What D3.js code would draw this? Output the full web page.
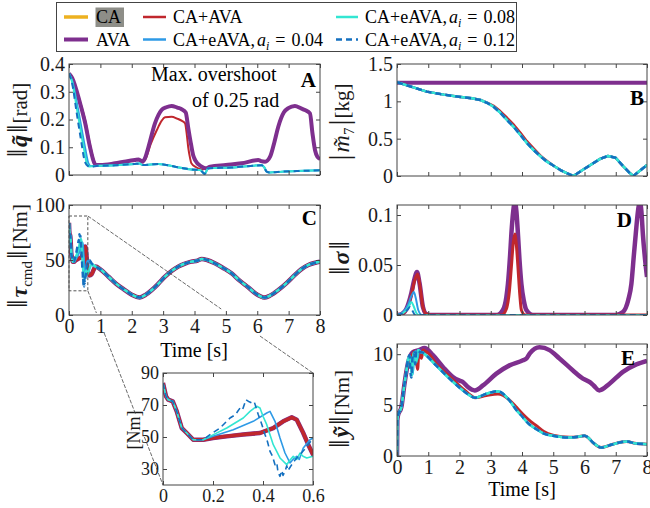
<!DOCTYPE html>
<html>
<head>
<meta charset="utf-8">
<title>Overshoot comparison</title>
<script src="https://d3js.org/d3.v7.min.js"></script>
<style>
  body { margin: 0; background: #fff; }
  svg, svg text { font-family: "Liberation Serif", Tinos, "Times New Roman", "DejaVu Serif", serif; }
</style>
</head>
<body>
<script>

// ---------------- data (time [s], value) ----------------

// A: joint error norm [rad]
const qAVA = [[0,0.366],[0.1,0.35],[0.35,0.26],[0.51,0.19],[0.67,0.10],[0.8,0.045],[0.85,0.036],[1.0,0.036],[1.47,0.042],[2.1,0.054],[2.22,0.056],[2.34,0.048],[2.42,0.06],[2.53,0.10],[2.74,0.186],[2.95,0.234],[3.1,0.244],[3.27,0.249],[3.45,0.243],[3.59,0.237],[3.72,0.225],[3.8,0.17],[3.89,0.11],[3.96,0.07],[4.02,0.054],[4.23,0.030],[4.36,0.024],[4.5,0.030],[5.0,0.036],[5.5,0.042],[6.03,0.054],[6.12,0.05],[6.25,0.048],[6.41,0.066],[6.55,0.12],[6.67,0.174],[6.85,0.226],[6.99,0.241],[7.2,0.249],[7.4,0.24],[7.52,0.234],[7.68,0.222],[7.76,0.15],[7.84,0.09],[7.92,0.065],[8,0.058]]
const qCAAVA = [[0,0.366],[0.1,0.35],[0.35,0.265],[0.51,0.2],[0.67,0.11],[0.8,0.05],[0.87,0.036],[1.0,0.036],[1.47,0.042],[2.1,0.054],[2.22,0.056],[2.34,0.048],[2.45,0.06],[2.6,0.11],[2.8,0.162],[2.95,0.195],[3.06,0.208],[3.27,0.21],[3.45,0.203],[3.6,0.195],[3.7,0.186],[3.76,0.14],[3.8,0.10],[3.86,0.06],[3.9,0.042],[4.05,0.028],[4.12,0.024],[4.25,0.02],[4.36,0.024],[4.5,0.030],[5.0,0.036],[5.5,0.042],[6.03,0.054],[6.12,0.05],[6.25,0.048],[6.41,0.066],[6.55,0.12],[6.67,0.174],[6.85,0.226],[6.99,0.241],[7.2,0.249],[7.4,0.24],[7.52,0.234],[7.68,0.222],[7.76,0.15],[7.84,0.09],[7.92,0.065],[8,0.058]]
const qE04 = [[0,0.366],[0.1,0.34],[0.3,0.23],[0.51,0.10],[0.62,0.042],[0.7,0.032],[0.93,0.033],[1.47,0.035],[2.1,0.040],[2.25,0.041],[2.34,0.036],[2.85,0.040],[3.38,0.030],[3.9,0.020],[4.18,0.018],[4.26,0.010],[4.32,0.004],[4.44,0.024],[5.18,0.027],[6.14,0.035],[6.22,0.028],[6.3,0.012],[6.4,0.009],[6.78,0.012],[7.5,0.015],[8,0.017]]
const qE08 = [[0,0.366],[0.1,0.335],[0.28,0.22],[0.46,0.105],[0.57,0.042],[0.65,0.031],[0.93,0.033],[1.47,0.035],[2.1,0.040],[2.25,0.041],[2.34,0.036],[2.85,0.040],[3.38,0.030],[3.9,0.020],[4.18,0.018],[4.26,0.010],[4.32,0.004],[4.44,0.024],[5.18,0.027],[6.14,0.035],[6.22,0.028],[6.3,0.012],[6.4,0.009],[6.78,0.012],[7.5,0.015],[8,0.017]]
const qE12 = [[0,0.366],[0.1,0.33],[0.25,0.22],[0.4,0.114],[0.48,0.06],[0.53,0.042],[0.6,0.033],[0.67,0.030],[0.93,0.033],[1.47,0.035],[2.1,0.040],[2.25,0.041],[2.34,0.036],[2.85,0.040],[3.38,0.030],[3.9,0.020],[4.18,0.018],[4.26,0.010],[4.32,0.004],[4.44,0.024],[5.18,0.027],[6.14,0.035],[6.22,0.028],[6.3,0.012],[6.4,0.009],[6.78,0.012],[7.5,0.015],[8,0.017]]

// B: mass estimate error [kg]
const mAVA = [[0,1.25],[8,1.25]]
const mCAAVA = [[0,1.255],[0.5,1.19],[0.95,1.13],[1.5,1.09],[1.97,1.062],[2.4,1.04],[2.67,1.018],[2.9,0.98],[3.09,0.94],[3.3,0.87],[3.52,0.78],[3.75,0.68],[3.95,0.58],[4.15,0.47],[4.37,0.37],[4.6,0.27],[4.8,0.2],[5.0,0.14],[5.23,0.08],[5.45,0.035],[5.64,0.0],[5.9,0.07],[6.19,0.147],[6.5,0.23],[6.75,0.268],[6.99,0.245],[7.25,0.125],[7.45,0.04],[7.56,0.0],[7.8,0.08],[8,0.147]]
const mEAVA = [[0,1.255],[0.5,1.19],[0.95,1.13],[1.5,1.09],[1.97,1.062],[2.4,1.04],[2.67,1.018],[2.9,0.975],[3.09,0.928],[3.3,0.85],[3.52,0.75],[3.75,0.65],[3.95,0.549],[4.15,0.445],[4.37,0.348],[4.6,0.26],[4.8,0.192],[5.0,0.14],[5.23,0.08],[5.45,0.035],[5.64,0.0],[5.9,0.07],[6.19,0.147],[6.5,0.23],[6.75,0.268],[6.99,0.245],[7.25,0.125],[7.45,0.04],[7.56,0.0],[7.8,0.08],[8,0.147]]

// C: commanded torque norm [Nm]
const tauStart = [[0,83.7],[0.012,75.4],[0.021,73.3],[0.039,72.3],[0.055,66],[0.075,55.6],[0.095,52.5],[0.121,48.3],[0.161,48.3]]
const tauRedMid = [[0.2,49.4],[0.255,50.4],[0.321,51.5],[0.388,52.5],[0.441,55.6],[0.481,59.8],[0.515,62.3],[0.535,60.8],[0.561,52.5],[0.581,45.2],[0.6,39],[0.65,36],[0.72,37],[0.8,42]]
const tauE04Mid = [[0.2,50.4],[0.281,54.6],[0.361,59.8],[0.415,65],[0.428,66],[0.448,59.8],[0.468,49.4],[0.488,40],[0.508,33.8],[0.52,36],[0.535,37.9],[0.545,36],[0.561,43.1],[0.588,48.3],[0.6,49.4],[0.65,48],[0.72,46],[0.8,44.5]]
const tauE08Mid = [[0.188,50.4],[0.255,55.6],[0.321,61.9],[0.348,66],[0.375,69.2],[0.388,68.1],[0.4,63],[0.415,57.7],[0.441,45.2],[0.468,36.9],[0.495,32.7],[0.505,35],[0.521,37.9],[0.535,36],[0.548,40],[0.56,38],[0.575,36.9],[0.6,38],[0.65,42],[0.72,46],[0.8,45]]
const tauE12Mid = [[0.188,51.5],[0.228,55.6],[0.268,61.9],[0.29,64],[0.308,68.1],[0.318,67],[0.332,73.3],[0.345,72],[0.355,71.3],[0.365,72],[0.381,64],[0.395,58],[0.408,51.5],[0.418,47],[0.428,41],[0.438,38],[0.448,32.7],[0.455,34],[0.46,28],[0.468,25.4],[0.475,29],[0.48,26],[0.488,28.5],[0.495,32],[0.5,29],[0.515,32.7],[0.53,36],[0.548,39],[0.565,42],[0.581,45.2],[0.6,49.4],[0.65,50],[0.72,47],[0.8,45]]
const tauTail = [[0.85,44],[1.0,41.5],[1.26,34.8],[1.5,28.5],[1.78,22.7],[2.0,18.5],[2.26,16],[2.45,18.5],[2.64,22.7],[2.85,28.5],[3.06,34.8],[3.27,40],[3.48,44],[3.7,46.8],[3.9,48.5],[4.1,49.5],[4.23,51],[4.4,50],[4.65,47],[4.9,43],[5.18,37.9],[5.45,31],[5.71,25.2],[5.95,19.5],[6.1,17],[6.23,15.8],[6.4,17.5],[6.67,22.7],[6.95,29.5],[7.2,36.4],[7.4,41.5],[7.63,45.5],[7.85,47.5],[8,48.5]]

// D: sigma norm
const sigAVA = [[0,0],[0.15,0.001],[0.3,0.006],[0.46,0.022],[0.55,0.035],[0.64,0.043],[0.72,0.032],[0.83,0.008],[0.94,0.001],[1.1,0],[3.2,0],[3.39,0.005],[3.5,0.018],[3.55,0.031],[3.62,0.06],[3.66,0.081],[3.72,0.104],[3.77,0.113],[3.82,0.104],[3.87,0.081],[3.92,0.055],[3.98,0.031],[4.06,0.014],[4.14,0.005],[4.35,0],[7.0,0],[7.23,0.003],[7.4,0.015],[7.5,0.031],[7.58,0.06],[7.64,0.081],[7.72,0.106],[7.77,0.113],[7.82,0.104],[7.87,0.08],[7.94,0.055],[8,0.038]]
const sigCAAVA = [[0,0],[0.15,0.001],[0.3,0.005],[0.46,0.02],[0.56,0.034],[0.66,0.041],[0.74,0.028],[0.83,0.008],[0.94,0.001],[1.1,0],[3.35,0],[3.5,0.006],[3.6,0.025],[3.66,0.048],[3.72,0.072],[3.77,0.081],[3.82,0.07],[3.87,0.048],[3.93,0.02],[3.98,0.005],[4.1,0],[8,0]]
const sigE04 = [[0,0],[0.2,0.003],[0.35,0.01],[0.46,0.019],[0.54,0.023],[0.6,0.017],[0.68,0.005],[0.8,0],[8,0]]
const sigE08 = [[0,0],[0.2,0.002],[0.35,0.007],[0.46,0.013],[0.53,0.009],[0.62,0.002],[0.7,0],[8,0]]
const sigE12 = [[0,0],[0.2,0.002],[0.33,0.005],[0.42,0.008],[0.5,0.004],[0.58,0],[8,0]]

// E: momentum observer residual norm [Nm]
const yAVA = [[0,0],[0.01,3.5],[0.03,3.96],[0.14,4.8],[0.24,7.1],[0.35,9.1],[0.51,10.2],[0.7,10.4],[0.88,10.6],[1.15,9.9],[1.47,8.75],[1.79,7.76],[2.0,7.4],[2.11,7.26],[2.27,6.77],[2.49,6.44],[2.75,6.93],[3.18,8.09],[3.6,8.9],[4.03,9.4],[4.15,9.6],[4.25,10.07],[4.56,10.67],[4.88,10.4],[5.2,9.58],[5.63,8.4],[5.95,7.6],[6.17,7.26],[6.3,6.9],[6.47,6.44],[6.8,7.1],[7.23,8.26],[7.66,9.0],[8,9.35]]
const yStart = [[0,0],[0.01,3.5],[0.03,3.96],[0.14,4.8],[0.24,7.1],[0.3,8.3]]
const yRedMid = [[0.35,9.1],[0.5,10.0],[0.55,10.3],[0.62,9.3],[0.66,8.5],[0.7,10.2],[0.78,9.6],[0.84,10.4]]
const yE04Mid = [[0.38,9.6],[0.44,9.7],[0.5,8.0],[0.55,10.0],[0.6,10.3],[0.65,9.5],[0.7,10.4],[0.77,10.2]]
const yE08Mid = [[0.36,9.6],[0.42,9.8],[0.48,7.9],[0.53,10.1],[0.58,10.2],[0.62,9.2],[0.67,10.4],[0.76,10.2]]
const yE12Mid = [[0.35,9.5],[0.4,9.9],[0.43,8.2],[0.46,7.7],[0.5,9.8],[0.55,10.2],[0.58,9.0],[0.62,10.4],[0.68,10.3],[0.75,10.2]]
const yRedTail = [[0.9,10.3],[1.0,10.1],[1.25,9.1],[1.68,7.8],[2.11,6.6],[2.3,6.1],[2.49,5.72],[2.86,5.95],[3.23,6.1],[3.4,5.95],[3.6,5.5],[3.8,4.85],[4.03,4.1],[4.2,3.6],[4.46,2.97],[4.7,2.4],[4.99,2.05],[5.52,1.85],[5.8,1.9],[6.0,1.98],[6.1,1.85],[6.27,1.32],[6.54,0.83],[6.91,1.16],[7.34,1.42],[7.66,1.22],[8,1.16]]
const yTail = [[0.8,10.2],[0.93,9.9],[1.25,8.9],[1.68,7.6],[2.11,6.44],[2.3,6.0],[2.49,5.72],[2.86,6.11],[3.23,6.37],[3.4,6.1],[3.6,5.45],[3.8,4.6],[4.03,3.8],[4.2,3.2],[4.46,2.64],[4.7,2.2],[4.99,1.98],[5.52,1.82],[5.8,1.9],[6.0,1.98],[6.1,1.85],[6.27,1.32],[6.54,0.83],[6.91,1.16],[7.34,1.42],[7.66,1.22],[8,1.16]]

// ticks
const timeTicks = [0,1,2,3,4,5,6,7,8]
const ticksA = [0,0.1,0.2,0.3,0.4]
const ticksB = [0,0.5,1,1.5]
const ticksC = [0,50,100]
const ticksD = [0,0.05,0.1]
const ticksE = [0,5,10]
const insetX = [0,0.2,0.4,0.6]
const insetY = [30,50,70,90]

const legendRows = [
	[{key: "CA", label: "CA"}, {key: "CAAVA", label: "CA+AVA"}, {key: "e08", label: "0.08"}],
	[{key: "AVA", label: "AVA"}, {key: "e04", label: "0.04"}, {key: "e12", label: "0.12"}]
]

// ---------------- drawing ----------------
const colors = {CA: "#edb120", AVA: "#7e2f8e", CAAVA: "#c0272d", e04: "#2e9ae6", e08: "#33e6d2", e12: "#1470c0"}
const axisColor = "#444"
const serif = '"Liberation Serif", Tinos, "Times New Roman", "DejaVu Serif", serif'

const svg = d3.select("body").append("svg")
	.attr("width", 650)
	.attr("height", 508)
	.attr("font-family", serif)

let clipCount = 0

// one axes box with ticks pointing inward (matlab style)
function panel(o)
{
	const x = d3.scaleLinear().domain(o.xd).range([o.x0, o.x1])
	const y = d3.scaleLinear().domain(o.yd).range([o.y1, o.y0])
	const g = svg.append("g")

	const id = "clip" + (clipCount++)
	svg.append("clipPath").attr("id", id).append("rect")
		.attr("x", o.x0).attr("y", o.y0).attr("width", o.x1 - o.x0).attr("height", o.y1 - o.y0)

	g.append("rect")
		.attr("x", o.x0).attr("y", o.y0).attr("width", o.x1 - o.x0).attr("height", o.y1 - o.y0)
		.attr("fill", "#fff")

	const lines = g.append("g").attr("clip-path", `url(#${id})`)

	const fmt = d => d
	const axes = [
		[d3.axisBottom(x).tickValues(o.xt).tickFormat(o.xLabels ? fmt : ""), `translate(0,${o.y1})`],
		[d3.axisTop(x).tickValues(o.xt).tickFormat(""), `translate(0,${o.y0})`],
		[d3.axisLeft(y).tickValues(o.yt).tickFormat(fmt), `translate(${o.x0},0)`],
		[d3.axisRight(y).tickValues(o.yt).tickFormat(""), `translate(${o.x1},0)`]
	]
	const ag = g.append("g")
	axes.forEach(a => {
		const s = ag.append("g").attr("transform", a[1])
			.call(a[0].tickSizeInner(-4).tickSizeOuter(0).tickPadding(4))
		s.attr("font-family", serif).attr("font-size", 20)
		s.select(".domain").remove()
		s.selectAll("line").attr("stroke", axisColor)
		s.selectAll("text").attr("fill", "#1a1a1a")
	})
	ag.append("rect")
		.attr("x", o.x0).attr("y", o.y0).attr("width", o.x1 - o.x0).attr("height", o.y1 - o.y0)
		.attr("fill", "none").attr("stroke", axisColor).attr("stroke-width", 1)

	return {x: x, y: y, lines: lines, axes: ag}
}

function series(p, data, key, width, curve)
{
	const line = d3.line()
		.x(d => p.x(d[0]))
		.y(d => p.y(d[1]))
		.curve(curve || d3.curveMonotoneX)
	p.lines.append("path")
		.attr("d", line(data))
		.attr("fill", "none")
		.attr("stroke", colors[key])
		.attr("stroke-width", width)
		.attr("stroke-linejoin", "round")
		.attr("stroke-dasharray", key == "e12" ? "6,4" : null)
}

function yLabel(x, y, build)
{
	const t = svg.append("text")
		.attr("transform", `translate(${x},${y}) rotate(-90)`)
		.attr("text-anchor", "middle")
		.attr("dy", "0.35em")
		.attr("font-size", 21)
		.attr("fill", "#1a1a1a")
	build(t)
}

// double bar of a norm, drawn a bit taller than the text
function bars(t, s)
{
	return t.append("tspan").attr("font-size", 30).attr("dx", 1).text(s || "‖")
}

function letter(x, y, s)
{
	svg.append("text").attr("x", x).attr("y", y)
		.attr("text-anchor", "end")
		.attr("font-size", 21).attr("font-weight", "bold")
		.text(s)
}

// ---- panel A
const pA = panel({x0: 69, x1: 320, y0: 64, y1: 175, xd: [0, 8], yd: [0, 0.4], xt: timeTicks, yt: ticksA, xLabels: false})
series(pA, qCAAVA, "CAAVA", 2)
series(pA, qAVA, "AVA", 4)
series(pA, qE04, "e04", 2)
series(pA, qE08, "e08", 2)
series(pA, qE12, "e12", 2)
letter(316, 87, "A")
svg.append("text").attr("x", 151).attr("y", 81).attr("font-size", 20).text("Max. overshoot")
svg.append("text").attr("x", 192).attr("y", 107).attr("font-size", 20).text("of 0.25 rad")
yLabel(20, 121, t => {
	bars(t)
	t.append("tspan").attr("font-weight", "bold").attr("font-style", "italic").attr("font-size", 24).attr("dx", 2).text("q\u0303")
	bars(t).attr("dx", 2)
	t.append("tspan").attr("dx", 1).text("[rad]")
})

// ---- panel B
const pB = panel({x0: 397, x1: 647, y0: 64, y1: 176, xd: [0, 8], yd: [0, 1.5], xt: timeTicks, yt: ticksB, xLabels: false})
series(pB, mAVA, "AVA", 4, d3.curveLinear)
series(pB, mCAAVA, "CAAVA", 2.5, d3.curveLinear)
series(pB, mEAVA, "e04", 2.5, d3.curveLinear)
series(pB, mEAVA, "e08", 2.5, d3.curveLinear)
series(pB, mEAVA, "e12", 2.5, d3.curveLinear)
letter(644, 105, "B")
yLabel(342, 123, t => {
	bars(t, "|")
	t.append("tspan").attr("font-style", "italic").attr("font-size", 24).attr("dx", 2).text("m\u0303")
	t.append("tspan").attr("font-size", 15).attr("dy", 5).text("7")
	bars(t, "|").attr("dy", -5).attr("dx", 2)
	t.append("tspan").attr("dx", 1).text("[kg]")
})

// ---- panel C
const tauAVA = tauStart.concat(tauRedMid, tauTail)
const tauCAAVA = tauStart.concat(tauRedMid, tauTail)
const tauE04 = tauStart.concat(tauE04Mid, tauTail)
const tauE08 = tauStart.concat(tauE08Mid, tauTail)
const tauE12 = tauStart.concat(tauE12Mid, tauTail)

const pC = panel({x0: 69, x1: 320, y0: 205, y1: 315, xd: [0, 8], yd: [0, 100], xt: timeTicks, yt: ticksC, xLabels: true})
series(pC, tauAVA, "AVA", 4.5)
series(pC, tauCAAVA, "CAAVA", 3.5)
series(pC, tauE04, "e04", 2.5)
series(pC, tauE08, "e08", 2.5)
series(pC, tauE12, "e12", 2.5)
letter(317, 225, "C")
svg.append("text").attr("x", 194).attr("y", 357).attr("text-anchor", "middle").attr("font-size", 20).text("Time [s]")
yLabel(20, 257, t => {
	bars(t)
	t.append("tspan").attr("font-weight", "bold").attr("font-style", "italic").attr("font-size", 24).attr("dx", 2).text("τ")
	t.append("tspan").attr("font-size", 15).attr("dy", 5).text("cmd")
	bars(t).attr("dy", -5).attr("dx", 2)
	t.append("tspan").attr("dx", 1).text("[Nm]")
})

// zoom box in panel C
pC.axes.append("rect")
	.attr("x", pC.x(0)).attr("y", pC.y(90))
	.attr("width", pC.x(0.6) - pC.x(0)).attr("height", pC.y(22) - pC.y(90))
	.attr("fill", "none").attr("stroke", "#555").attr("stroke-width", 1).attr("stroke-dasharray", "3,2")

// ---- panel D
const pD = panel({x0: 397, x1: 647, y0: 205, y1: 315, xd: [0, 8], yd: [0, 0.11], xt: timeTicks, yt: ticksD, xLabels: false})
series(pD, sigAVA, "AVA", 4.5)
series(pD, sigCAAVA, "CAAVA", 3)
series(pD, sigE04, "e04", 2)
series(pD, sigE08, "e08", 2)
series(pD, sigE12, "e12", 2)
letter(632, 227, "D")
yLabel(342, 259, t => {
	bars(t)
	t.append("tspan").attr("font-weight", "bold").attr("font-style", "italic").attr("font-size", 24).attr("dx", 2).text("σ")
	bars(t).attr("dx", 2)
})

// ---- panel E
const yCAAVA = yStart.concat(yRedMid, yRedTail)
const yE04 = yStart.concat(yE04Mid, yTail)
const yE08 = yStart.concat(yE08Mid, yTail)
const yE12 = yStart.concat(yE12Mid, yTail)

const pE = panel({x0: 397, x1: 647, y0: 344, y1: 456, xd: [0, 8], yd: [0, 11], xt: timeTicks, yt: ticksE, xLabels: true})
series(pE, yAVA, "AVA", 4.5)
series(pE, yCAAVA, "CAAVA", 3)
series(pE, yE04, "e04", 2.5)
series(pE, yE08, "e08", 2.5)
series(pE, yE12, "e12", 2.5)
letter(635, 365, "E")
svg.append("text").attr("x", 522).attr("y", 496).attr("text-anchor", "middle").attr("font-size", 20).text("Time [s]")
yLabel(342, 410, t => {
	bars(t)
	t.append("tspan").attr("font-weight", "bold").attr("font-style", "italic").attr("font-size", 24).attr("dx", 2).text("y\u0303")
	bars(t).attr("dx", 2)
	t.append("tspan").attr("dx", 1).text("[Nm]")
})

// ---- inset (zoom of C)
const pI = panel({x0: 163, x1: 313, y0: 373, y1: 485, xd: [0, 0.6], yd: [20, 90], xt: insetX, yt: insetY, xLabels: true})
series(pI, tauAVA, "AVA", 4.5, d3.curveLinear)
series(pI, tauCAAVA, "CAAVA", 3.5, d3.curveLinear)
series(pI, tauE04, "e04", 1.6, d3.curveLinear)
series(pI, tauE08, "e08", 1.6, d3.curveLinear)
series(pI, tauE12, "e12", 1.6, d3.curveLinear)
pI.axes.selectAll("g").attr("font-size", 18)
yLabel(134, 430, t => t.text("[Nm]").attr("font-size", 18))

// connector lines, interrupted where labels sit on top
function gapLine(p0, p1, gaps)
{
	const at = yy => {
		const t = (yy - p0[1]) / (p1[1] - p0[1])
		return [p0[0] + t * (p1[0] - p0[0]), yy]
	}
	let start = p0
	const segs = []
	gaps.forEach(gp => {
		segs.push([start, at(gp[0])])
		start = at(gp[1])
	})
	segs.push([start, p1])
	segs.forEach(s => {
		svg.append("line")
			.attr("x1", s[0][0]).attr("y1", s[0][1]).attr("x2", s[1][0]).attr("y2", s[1][1])
			.attr("stroke", "#444").attr("stroke-width", 0.8).attr("stroke-dasharray", "4,1.5")
	})
}
gapLine([pC.x(0.6), pC.y(90)], [pI.x(0.6), pI.y(90)], [[309, 336]])
gapLine([pC.x(0.6), pC.y(22)], [pI.x(0), pI.y(20)], [[313, 333], [414, 437]])

// ---- legend
const lg = svg.append("g")
lg.append("rect").attr("x", 56.5).attr("y", 2.5).attr("width", 460).attr("height", 49)
	.attr("fill", "#fff").attr("stroke", axisColor).attr("stroke-width", 1)
lg.append("rect").attr("x", 95.5).attr("y", 7.5).attr("width", 28.5).attr("height", 19.5).attr("fill", "#8e8e88")

const colLine = [[64, 88], [143, 166], [336, 358]]
const colText = [96, 173, 365]
const rowY = [17, 39.5]
legendRows.forEach((row, r) => {
	row.forEach((it, c) => {
		lg.append("line")
			.attr("x1", colLine[c][0]).attr("x2", colLine[c][1])
			.attr("y1", rowY[r]).attr("y2", rowY[r])
			.attr("stroke", colors[it.key])
			.attr("stroke-width", it.key == "AVA" ? 4 : (it.key == "CA" ? 3.5 : 2.5))
			.attr("stroke-dasharray", it.key == "e12" ? "6,4" : null)
		const t = lg.append("text").attr("x", colText[c]).attr("y", rowY[r] + 6).attr("font-size", 18)
		if (it.key.startsWith("e")) {
			t.append("tspan").text("CA+eAVA,")
			t.append("tspan").attr("font-style", "italic").attr("dx", 2).text("a")
			t.append("tspan").attr("font-style", "italic").attr("font-size", 12).attr("dy", 4).text("i")
			t.append("tspan").attr("dy", -4).attr("dx", 6).text("=")
			t.append("tspan").attr("dx", 6).text(it.label)
		} else {
			t.text(it.label)
		}
	})
})

</script>
</body>
</html>
